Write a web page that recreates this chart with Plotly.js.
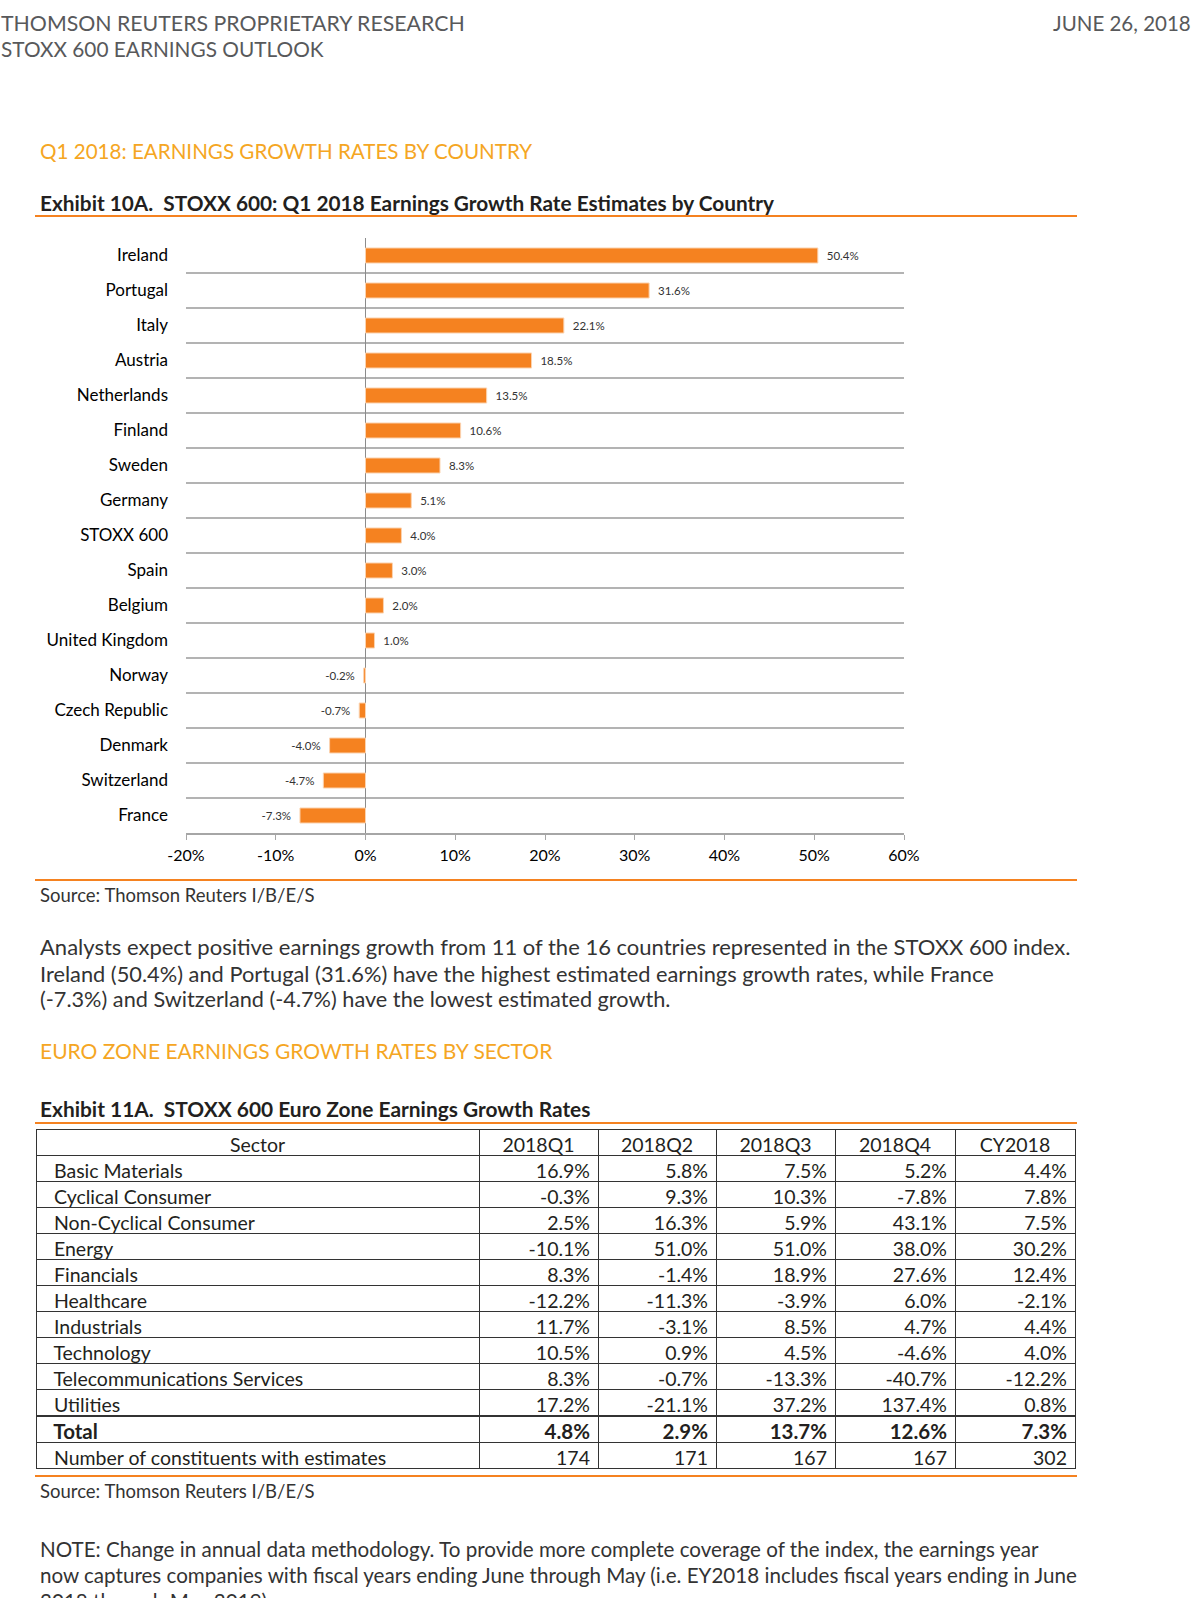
<!DOCTYPE html>
<html>
<head>
<meta charset="utf-8">
<script src="https://cdn.plot.ly/plotly-3.0.1.min.js"></script>
<style>
  html, body { margin: 0; padding: 0; background: #ffffff; }
  #chart { width: 1200px; height: 1598px; }
</style>
</head>
<body>
<div id="chart"></div>
<script>
// ---------- Exhibit 10A data ----------
const countries = ["Ireland", "Portugal", "Italy", "Austria", "Netherlands", "Finland", "Sweden",
  "Germany", "STOXX 600", "Spain", "Belgium", "United Kingdom", "Norway", "Czech Republic",
  "Denmark", "Switzerland", "France"];
const growthQ1 = [50.4, 31.6, 22.1, 18.5, 13.5, 10.6, 8.3, 5.1, 4.0, 3.0, 2.0, 1.0, -0.2, -0.7, -4.0, -4.7, -7.3];
const xTickVals = [-20, -10, 0, 10, 20, 30, 40, 50, 60];

// ---------- Exhibit 11A data ----------
const tableHeader = ["Sector", "2018Q1", "2018Q2", "2018Q3", "2018Q4", "CY2018"];
const sectors = ["Basic Materials", "Cyclical Consumer", "Non-Cyclical Consumer", "Energy", "Financials",
  "Healthcare", "Industrials", "Technology", "Telecommunications Services", "Utilities"];
const q1 = [16.9, -0.3, 2.5, -10.1, 8.3, -12.2, 11.7, 10.5, 8.3, 17.2];
const q2 = [5.8, 9.3, 16.3, 51.0, -1.4, -11.3, -3.1, 0.9, -0.7, -21.1];
const q3 = [7.5, 10.3, 5.9, 51.0, 18.9, -3.9, 8.5, 4.5, -13.3, 37.2];
const q4 = [5.2, -7.8, 43.1, 38.0, 27.6, 6.0, 4.7, -4.6, -40.7, 137.4];
const cy = [4.4, 7.8, 7.5, 30.2, 12.4, -2.1, 4.4, 4.0, -12.2, 0.8];
const totalLabel = "Total";
const totals = [4.8, 2.9, 13.7, 12.6, 7.3];
const countLabel = "Number of constituents with estimates";
const counts = [174, 171, 167, 167, 302];

// ---------- helpers ----------
const W = 1200, H = 1598;
const px = x => x / W;
const py = y => 1 - y / H;
const FONT = "Lato, 'Noto Sans', sans-serif";
const ORANGE = "#f58220";
const GOLD = "#f5a623";
const NB = "\u00a0";
const pct = v => v.toFixed(1) + "%";
const pad = s => NB + NB + s;

// table geometry (pixels)
const TBL_TOP = 1129, ROW_H = 26, TBL_L = 36, TBL_R = 1075;
const colWidths = [443, 119, 118, 119, 120, 120];
const colAlign = ["left", "right", "right", "right", "right", "right"];
const LINE = { color: "#333333", width: 1 };
const WHITE = { color: "#ffffff" };
const TFONT = { family: FONT, size: 19.5, color: "#231f20" };

const valueCols = [q1, q2, q3, q4, cy];
const mainCols = [sectors.map(pad)].concat(valueCols.map(col => col.map(pct)));
const mainBottom = TBL_TOP + ROW_H * (sectors.length + 1);
const totalTop = mainBottom + 1;

const barTrace = {
  type: "bar",
  orientation: "h",
  y: countries,
  x: growthQ1,
  width: 0.43,
  marker: { color: ORANGE, line: { color: "#fbd3b0", width: 1 } },
  text: growthQ1.map(v => v >= 0 ? NB + NB + pct(v) : pct(v) + NB + NB),
  textposition: "outside",
  cliponaxis: false,
  textfont: { family: FONT, size: 11.5, color: "#333333" },
  hoverinfo: "none",
  xaxis: "x",
  yaxis: "y"
};

const tableMain = {
  type: "table",
  domain: { x: [px(TBL_L), px(TBL_R)], y: [py(mainBottom + 1), py(TBL_TOP)] },
  columnwidth: colWidths,
  header: { values: tableHeader, align: "center", height: ROW_H, font: TFONT, line: LINE, fill: WHITE },
  cells: { values: mainCols, align: colAlign, height: ROW_H, font: TFONT, line: LINE, fill: WHITE }
};

// Total row (bold, drawn as the header of a second table) + constituent counts
const tableTotal = {
  type: "table",
  domain: { x: [px(TBL_L), px(TBL_R)], y: [py(totalTop + 2 * ROW_H + 10), py(totalTop)] },
  columnwidth: colWidths,
  header: {
    values: [pad(totalLabel)].concat(totals.map(pct)),
    align: colAlign, height: ROW_H,
    font: { family: FONT, size: 20.5, color: "#231f20", weight: "bold" },
    line: LINE, fill: WHITE
  },
  cells: {
    values: [[pad(countLabel)]].concat(counts.map(c => [String(c)])),
    align: colAlign, height: ROW_H, font: TFONT, line: LINE, fill: WHITE
  }
};

function txt(text, x, y, opts) {
  opts = opts || {};
  return {
    text: text, xref: "paper", yref: "paper", x: px(x), y: py(y),
    xanchor: opts.xanchor || "left", yanchor: "middle", showarrow: false,
    font: { family: FONT, size: opts.size || 20, color: opts.color || "#333333" }
  };
}

const annotations = [
  txt("THOMSON REUTERS PROPRIETARY RESEARCH", -1, 23, { color: "#58595b", size: 21.3 }),
  txt("STOXX 600 EARNINGS OUTLOOK", -1, 48, { color: "#58595b", size: 20.8 }),
  txt("JUNE 26, 2018", 1193, 23, { color: "#58595b", size: 20.5, xanchor: "right" }),
  txt("Q1 2018: EARNINGS GROWTH RATES BY COUNTRY", 38, 151, { color: GOLD, size: 20.6 }),
  txt("<b>Exhibit 10A.  STOXX 600: Q1 2018 Earnings Growth Rate Estimates by Country</b>", 38, 202, { color: "#231f20", size: 20.8 }),
  txt("Source: Thomson Reuters I/B/E/S", 38, 895, { color: "#333333", size: 18.5 }),
  txt("Analysts expect positive earnings growth from 11 of the 16 countries represented in the STOXX 600 index.", 38, 947, { size: 22 }),
  txt("Ireland (50.4%) and Portugal (31.6%) have the highest estimated earnings growth rates, while France", 38, 973, { size: 21.8 }),
  txt("(-7.3%) and Switzerland (-4.7%) have the lowest estimated growth.", 38, 999, { size: 21.7 }),
  txt("EURO ZONE EARNINGS GROWTH RATES BY SECTOR", 38, 1050, { color: GOLD, size: 21 }),
  txt("<b>Exhibit 11A.  STOXX 600 Euro Zone Earnings Growth Rates</b>", 38, 1108, { color: "#231f20", size: 20.9 }),
  txt("Source: Thomson Reuters I/B/E/S", 38, 1491, { color: "#333333", size: 18.5 }),
  txt("NOTE: Change in annual data methodology. To provide more complete coverage of the index, the earnings year", 38, 1549, { size: 20.6 }),
  txt("now captures companies with fiscal years ending June through May (i.e. EY2018 includes fiscal years ending in June", 38, 1575, { size: 20.6 }),
  txt("2018 through May 2019).", 38, 1601, { size: 20.6 })
];

function rule(y) {
  return { type: "line", xref: "paper", yref: "paper", x0: px(35), x1: px(1077), y0: py(y), y1: py(y),
    line: { color: ORANGE, width: 2 } };
}

const layout = {
  width: W, height: H,
  margin: { l: 0, r: 0, t: 0, b: 0 },
  paper_bgcolor: "#ffffff",
  plot_bgcolor: "#ffffff",
  showlegend: false,
  xaxis: {
    domain: [px(186), px(904)],
    range: [-20, 60],
    tickvals: xTickVals,
    ticktext: xTickVals.map(v => v + "%"),
    showgrid: false,
    zeroline: true, zerolinecolor: "#8c8c8c", zerolinewidth: 1,
    showline: true, linecolor: "#a6a6a6", linewidth: 1.5,
    ticks: "outside", ticklen: 5, tickcolor: "#a6a6a6", tickwidth: 1,
    ticklabelstandoff: 2,
    tickfont: { family: FONT, size: 16, color: "#000000" },
    anchor: "y",
    fixedrange: true
  },
  yaxis: {
    domain: [py(833), py(238)],
    type: "category",
    autorange: "reversed",
    tickson: "boundaries",
    showgrid: true, gridcolor: "#b3b3b3", gridwidth: 1.5,
    ticks: "",
    ticklabelstandoff: 17,
    tickfont: { family: FONT, size: 17, color: "#000000" },
    showline: false,
    zeroline: false,
    fixedrange: true
  },
  annotations: annotations,
  shapes: [rule(216), rule(880), rule(1123), rule(1476)]
};

Plotly.newPlot("chart", [barTrace, tableMain, tableTotal], layout, { displayModeBar: false, staticPlot: true });
</script>
</body>
</html>
